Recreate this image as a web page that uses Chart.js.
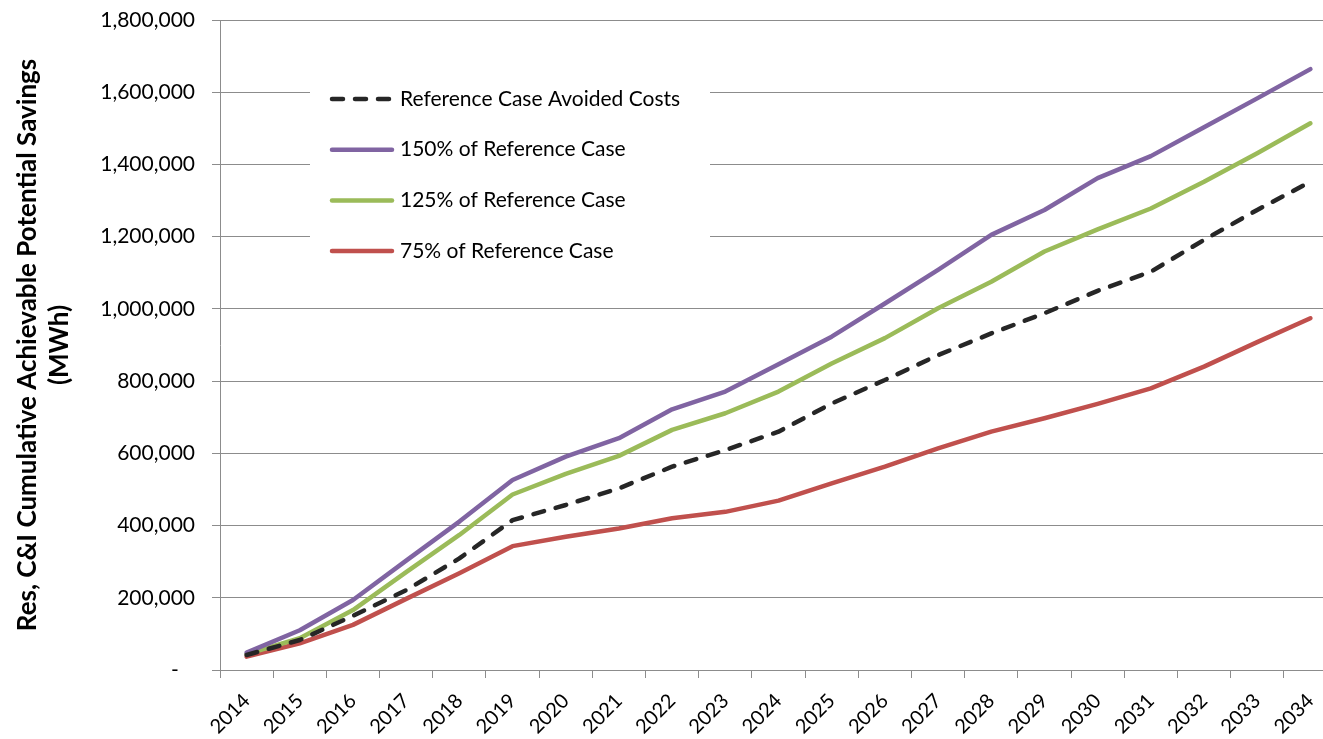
<!DOCTYPE html>
<html>
<head>
<meta charset="utf-8">
<script src="https://cdn.jsdelivr.net/npm/chart.js@4/dist/chart.umd.min.js"></script>
<style>
  html, body { margin: 0; padding: 0; background: #fff; overflow: hidden; }
  #wrap { position: relative; width: 1340px; height: 739px; }
</style>
</head>
<body>
<div id="wrap"><canvas id="savingsChart" width="1340" height="739"></canvas></div>
<script>
// Years on the category axis
const years = ['2014', '2015', '2016', '2017', '2018', '2019', '2020', '2021', '2022', '2023', '2024',
               '2025', '2026', '2027', '2028', '2029', '2030', '2031', '2032', '2033', '2034'];

// Cumulative savings (MWh)
const referenceCase = [41500, 83000, 150000, 221000, 309000, 415000, 457000, 503000, 563000, 609000, 660000,
                       738000, 803000, 872000, 932000, 988000, 1050000, 1103000, 1191000, 1274000, 1352000];
const case150 = [48000, 110000, 194000, 303000, 411000, 526000, 591000, 642000, 722000, 771000, 847000,
                 923000, 1015000, 1108000, 1205000, 1274000, 1362000, 1423000, 1503000, 1583000, 1664000];
const case125 = [44000, 88000, 166000, 271000, 374000, 486000, 543000, 593000, 665000, 711000, 771000,
                 849000, 919000, 1002000, 1075000, 1159000, 1220000, 1278000, 1352000, 1431000, 1514000];
const case75 = [37000, 74000, 125000, 197000, 268000, 343000, 369000, 392000, 420000, 438000, 469000,
                517000, 563000, 614000, 660000, 697000, 737000, 780000, 840000, 908000, 974000];

const seriesLabels = ['Reference Case Avoided Costs', '150% of Reference Case', '125% of Reference Case', '75% of Reference Case'];
const yAxisTitle = ['Res, C&I Cumulative Achievable Potential Savings', '(MWh)'];

const FONT = 'Lato, "Open Sans", sans-serif';
const GRID = '#8c8c8c';

// Legend drawn inside the plot area, on a white box
const insideLegend = {
    id: 'insideLegend',
    afterDatasetsDraw(chart) {
        const ctx = chart.ctx;
        const box = { x: 310, y: 72, w: 400, h: 202 };
        ctx.save();
        ctx.fillStyle = '#fff';
        ctx.fillRect(box.x, box.y, box.w, box.h);
        ctx.font = '21px ' + FONT;
        ctx.textBaseline = 'middle';
        chart.data.datasets.forEach((ds, i) => {
            const y = 99 + i * 50.7;
            ctx.beginPath();
            ctx.strokeStyle = ds.borderColor;
            ctx.lineWidth = ds.borderWidth;
            ctx.lineCap = 'round';
            ctx.setLineDash(ds.borderDash || []);
            ctx.moveTo(332, y);
            ctx.lineTo(392, y);
            ctx.stroke();
            ctx.setLineDash([]);
            ctx.fillStyle = '#000';
            ctx.fillText(ds.label, 400, y);
        });
        ctx.restore();
    }
};

const ctx = document.getElementById('savingsChart').getContext('2d');
new Chart(ctx, {
    type: 'line',
    data: {
        labels: years,
        datasets: [
            {
                label: seriesLabels[0],
                data: referenceCase,
                borderColor: '#262626',
                borderWidth: 4.5,
                borderDash: [11, 12],
                borderCapStyle: 'round'
            },
            {
                label: seriesLabels[1],
                data: case150,
                borderColor: '#8064a2',
                borderWidth: 4.5,
                borderCapStyle: 'round'
            },
            {
                label: seriesLabels[2],
                data: case125,
                borderColor: '#9bbb59',
                borderWidth: 4.5,
                borderCapStyle: 'round'
            },
            {
                label: seriesLabels[3],
                data: case75,
                borderColor: '#c0504d',
                borderWidth: 4.5,
                borderCapStyle: 'round'
            }
        ]
    },
    options: {
        responsive: false,
        animation: false,
        devicePixelRatio: 1,
        elements: {
            point: { radius: 0, hoverRadius: 0 },
            line: { tension: 0, borderJoinStyle: 'round' }
        },
        layout: { padding: { top: 20, right: 3, left: 0, bottom: 0 } },
        scales: {
            x: {
                offset: true,
                grid: {
                    offset: true,
                    drawOnChartArea: false,
                    drawTicks: true,
                    tickLength: 8,
                    color: GRID
                },
                border: { color: GRID, width: 1 },
                ticks: {
                    minRotation: 45,
                    maxRotation: 45,
                    autoSkip: false,
                    padding: 11,
                    color: '#000',
                    font: { family: FONT, size: 20 }
                },
                afterFit(scale) { scale.height = 69; }
            },
            y: {
                min: 0,
                max: 1800000,
                grid: { color: GRID, tickLength: 8 },
                border: { color: GRID, width: 1 },
                ticks: {
                    stepSize: 200000,
                    padding: 17,
                    color: '#000',
                    font: { family: FONT, size: 21 },
                    callback: value => value === 0 ? '-   ' : value.toLocaleString('en-US')
                },
                title: {
                    display: true,
                    text: yAxisTitle,
                    color: '#000',
                    font: { family: FONT, size: 26, weight: 'bold', lineHeight: 1.25 },
                    padding: { top: 11, bottom: 0 }
                },
                afterFit(scale) {
                    // fixed axis width; don't let tick padding push the plot top down
                    scale.width = 220;
                    scale.paddingTop = 0;
                    scale.paddingBottom = 0;
                }
            }
        },
        plugins: {
            legend: { display: false },
            tooltip: { enabled: false }
        }
    },
    plugins: [insideLegend]
});
</script>
</body>
</html>
